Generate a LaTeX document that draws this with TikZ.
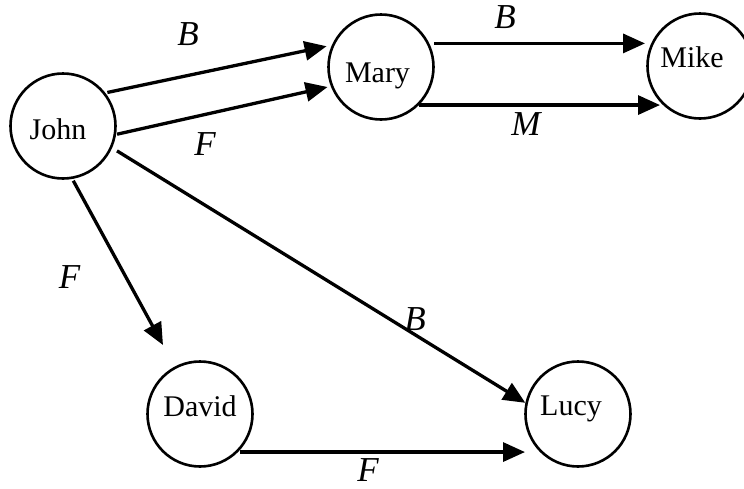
\documentclass[tikz,border=0pt]{standalone}
\usepackage{fontspec}
\setmainfont{Liberation Serif}
\usetikzlibrary{arrows.meta}
\begin{document}
\begin{tikzpicture}[x=1pt,y=-1pt,
  person/.style={circle,draw,line width=2.6pt,minimum size=105pt,inner sep=0pt},
  pname/.style={anchor=base,inner sep=0pt,font=\fontsize{30}{36}\selectfont},
  rel/.style={anchor=base,inner sep=0pt,font=\fontsize{35}{42}\selectfont\itshape},
  link/.style={line width=3.3pt,-{Triangle[length=22pt,width=19pt]}}]
\useasboundingbox (0,0) rectangle (744,488);
\clip (0,0) rectangle (744,488);
% people
\node[person] (john)  at (63,126)  {};
\node[person] (mary)  at (381,67)  {};
\node[person] (mike)  at (700,66)  {};
\node[person] (david) at (200,414) {};
\node[person] (lucy)  at (578,414) {};
\node[pname] (johnt)  at (58,139)  {John};
\node[pname] (maryt)  at (377.5,82) {Mary};
\node[pname] (miket)  at (692,67)  {Mike};
\node[pname] (davidt) at (200,416) {David};
\node[pname] (lucyt)  at (571,415) {Lucy};
% relations
\draw[link, shorten <=2pt, shorten >=5.4pt] (john.38) -- (mary.156);
\draw[link, shorten <=1pt, shorten >=3.3pt] (john.-9.5) -- (mary.201.6);
\draw[link, shorten <=5pt, shorten >=55pt] (mary.26) -- (mary.26 -| mike.center);
\draw[link, shorten >=40pt] (mary.-45) -- (mary.-45 -| mike.center);
\draw[link, shorten <=2pt, shorten >=24.5pt] (john.-80.7) -- (david.118.2);
\draw[link, shorten <=5.7pt] (john.-24.8) -- (lucy.168);
\draw[link, shorten <=2pt, shorten >=53pt] (david.-45) -- (david.-45 -| lucy.center);
% labels
\node[rel] (lb1) at (188,45)  {B};
\node[rel] (lf1) at (205,155) {F};
\node[rel] (lb2) at (505,28)  {B};
\node[rel] (lm)  at (526,135) {M};
\node[rel] (lf2) at (69.5,288) {F};
\node[rel] (lb3) at (415,330) {B};
\node[rel] (lf3) at (368,481) {F};
\end{tikzpicture}
\end{document}
